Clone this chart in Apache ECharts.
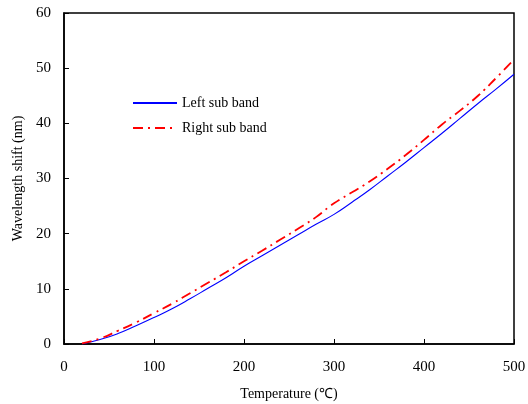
<!DOCTYPE html>
<html>
<head>
<meta charset="utf-8">
<script src="https://cdn.jsdelivr.net/npm/echarts@6/dist/echarts.min.js"></script>
<style>
  html, body { margin: 0; padding: 0; background: #fff; }
  #chart { width: 528px; height: 404px; }
</style>
</head>
<body>
<div id="chart"></div>
<script>
// Temperature (°C) sample points
const temperature = [20, 40, 60, 80, 100, 120, 140, 160, 180, 200, 220, 240, 260, 280, 300,
                     320, 340, 360, 380, 400, 420, 440, 460, 480, 500];
// Wavelength shift (nm) of each sub band
const leftSubBand = [0, 0.8, 1.9, 3.3, 4.8, 6.4, 8.2, 10.1, 12.0, 14.1, 16.0, 17.9, 19.8, 21.7, 23.5,
                     25.7, 28.0, 30.5, 33.0, 35.6, 38.2, 40.9, 43.6, 46.2, 48.9];
const rightSubBand = [0.1, 1.0, 2.4, 3.9, 5.6, 7.3, 9.2, 11.1, 13.0, 15.0, 16.9, 18.9, 20.9, 23.0, 25.5,
                      27.5, 29.5, 31.8, 34.3, 37.0, 39.8, 42.3, 45.0, 48.2, 51.6];
const seriesNames = ['Left sub band', 'Right sub band'];

const pairs = (xs, ys) => xs.map((x, i) => [x, ys[i]]);
const font = 'Liberation Serif, Times New Roman, serif';

const chart = echarts.init(document.getElementById('chart'), null, { renderer: 'canvas' });
chart.setOption({
  animation: false,
  backgroundColor: '#fff',
  grid: {
    left: 64, right: 14, top: 13, bottom: 60,
    outerBoundsMode: 'none',
    show: true, borderColor: '#000', borderWidth: 1.5
  },
  legend: {
    orient: 'vertical',
    left: 127, top: 91,
    itemWidth: 44, itemHeight: 10, itemGap: 11,
    itemStyle: { opacity: 0 },
    textStyle: { fontFamily: font, fontSize: 14, color: '#000' },
    data: seriesNames
  },
  xAxis: {
    type: 'value', min: 0, max: 500, interval: 100,
    name: 'Temperature (\u2103)', nameLocation: 'middle', nameGap: 43,
    nameTextStyle: { fontFamily: font, fontSize: 14, color: '#000' },
    axisLine: { lineStyle: { color: '#000', width: 1.5 } },
    axisTick: { inside: true, length: 5, lineStyle: { color: '#000' } },
    axisLabel: { fontFamily: font, fontSize: 15, color: '#000', margin: 16 },
    splitLine: { show: false }
  },
  yAxis: {
    type: 'value', min: 0, max: 60, interval: 10,
    name: 'Wavelength shift (nm)', nameLocation: 'middle', nameGap: 33,
    nameTextStyle: { fontFamily: font, fontSize: 14, color: '#000' },
    axisLine: { show: true, lineStyle: { color: '#000', width: 1.5 } },
    axisTick: { show: true, inside: true, length: 5, lineStyle: { color: '#000' } },
    axisLabel: { fontFamily: font, fontSize: 15, color: '#000', margin: 13 },
    splitLine: { show: false }
  },
  series: [
    {
      name: seriesNames[0], type: 'line', smooth: true, symbol: 'none',
      data: pairs(temperature, leftSubBand),
      itemStyle: { color: '#0000ff' },
      lineStyle: { color: '#0000ff', width: 1.1 }
    },
    {
      name: seriesNames[1], type: 'line', smooth: true, symbol: 'none',
      data: pairs(temperature, rightSubBand),
      itemStyle: { color: '#ff0000' },
      lineStyle: { color: '#ff0000', width: 1.8, type: [10, 5, 2, 5] }
    }
  ]
});
</script>
</body>
</html>
